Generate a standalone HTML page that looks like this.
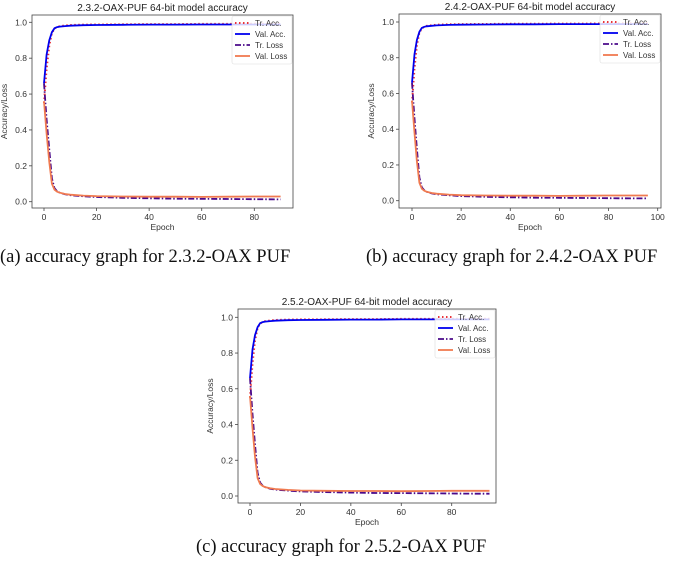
<!DOCTYPE html>
<html><head><meta charset="utf-8"><style>
body{margin:0;background:#fff;width:685px;height:563px;overflow:hidden;font-family:"Liberation Sans",sans-serif}
svg{position:absolute;left:0;top:0}
.cap{position:absolute;font-family:"Liberation Serif",serif;font-size:18.5px;color:#111;white-space:nowrap}
</style></head><body>
<svg id="fig" width="685" height="563"></svg>
<div class="cap" style="left:0;top:247px">(a) accuracy graph for 2.3.2-OAX PUF</div>
<div class="cap" style="left:366px;top:247px">(b) accuracy graph for 2.4.2-OAX PUF</div>
<div class="cap" style="left:196px;top:537px">(c) accuracy graph for 2.5.2-OAX PUF</div>
<script>
const epochs=[0,1,2,3,4,5,6,8,10,15,20,30,40,50,60,70,80,90];
const trAcc=[0.55,0.74,0.87,0.94,0.965,0.973,0.978,0.982,0.985,0.987,0.988,0.989,0.99,0.99,0.991,0.991,0.992,0.992];
const valAcc=[0.66,0.82,0.9,0.945,0.967,0.973,0.976,0.979,0.981,0.984,0.985,0.986,0.987,0.987,0.988,0.988,0.988,0.988];
const trLoss=[0.66,0.46,0.29,0.13,0.075,0.058,0.05,0.041,0.036,0.03,0.026,0.022,0.019,0.017,0.016,0.015,0.014,0.013];
const valLoss=[0.56,0.38,0.22,0.1,0.067,0.056,0.05,0.043,0.039,0.034,0.031,0.029,0.028,0.028,0.027,0.028,0.029,0.029];
const yTicks=[0,0.2,0.4,0.6,0.8,1.0];
const charts=[
 {name:'2.3.2',title:'2.3.2-OAX-PUF 64-bit model accuracy',last:90,xTicks:[0,20,40,60,80],fx0:32,fx1:293,fy0:15,fy1:208,x0:44,xs:(254.3-44)/80,y0:201.7,y1:22.3},
 {name:'2.4.2',title:'2.4.2-OAX-PUF 64-bit model accuracy',last:96,xTicks:[0,20,40,60,80,100],fx0:399,fx1:661,fy0:14,fy1:208,x0:412,xs:(657.7-412)/100,y0:200.7,y1:22},
 {name:'2.5.2',title:'2.5.2-OAX-PUF 64-bit model accuracy',last:95,xTicks:[0,20,40,60,80],fx0:238,fx1:496,fy0:309,fy1:503,x0:250,xs:(451.7-250)/80,y0:496,y1:317.3}
];
const svg=document.getElementById('fig');
const NS='http://www.w3.org/2000/svg';
function mk(tag,attrs,parent){const e=document.createElementNS(NS,tag);for(const k in attrs)e.setAttribute(k,attrs[k]);(parent||svg).appendChild(e);return e;}
const series=[
 {label:'Tr. Acc.',vals:trAcc,color:'#e8333a',dash:'1.5,2.5',w:2},
 {label:'Val. Acc.',vals:valAcc,color:'#0000ee',dash:'',w:1.8},
 {label:'Tr. Loss',vals:trLoss,color:'#4b0a8a',dash:'6,2,1.5,2',w:1.8},
 {label:'Val. Loss',vals:valLoss,color:'#f07a50',dash:'',w:1.8}
];
charts.forEach(c=>{
 const g=mk('g',{});
 
 
 const X=e=>c.x0+e*c.xs, Y=v=>c.y0+(c.y1-c.y0)*v;
 const t=mk('text',{x:(c.fx0+c.fx1)/2,y:c.fy0-4,'text-anchor':'middle','font-size':10,fill:'#222'},g);t.textContent=c.title;
 
 const fr=mk('rect',{x:c.fx0,y:c.fy0,width:c.fx1-c.fx0,height:c.fy1-c.fy0,fill:'none',stroke:'#444','stroke-width':0.8},g);
 
 yTicks.forEach(v=>{mk('line',{x1:c.fx0-3,x2:c.fx0,y1:Y(v),y2:Y(v),stroke:'#444','stroke-width':0.8},g);
  const l=mk('text',{x:c.fx0-5,y:Y(v)+3,'text-anchor':'end','font-size':8.5,fill:'#333'},g);l.textContent=v.toFixed(1);
  });
 c.xTicks.forEach(v=>{mk('line',{x1:X(v),x2:X(v),y1:c.fy1,y2:c.fy1+3,stroke:'#444','stroke-width':0.8},g);
  const l=mk('text',{x:X(v),y:c.fy1+12,'text-anchor':'middle','font-size':8.5,fill:'#333'},g);l.textContent=v;
  });
 const xl=mk('text',{x:(c.fx0+c.fx1)/2,y:c.fy1+22,'text-anchor':'middle','font-size':8.5,fill:'#333'},g);xl.textContent='Epoch';
 
 const cy=(c.fy0+c.fy1)/2,cx=c.fx0-25;
 const yl=mk('text',{x:cx,y:cy,'text-anchor':'middle','font-size':8.5,fill:'#333',transform:`rotate(-90 ${cx} ${cy})`},g);yl.textContent='Accuracy/Loss';
 
 series.forEach(s=>{
  const pts=epochs.map((e,i)=>[e,s.vals[i]]).filter(p=>p[0]<=c.last);
  if(pts[pts.length-1][0]<c.last)pts.push([c.last,s.vals[s.vals.length-1]]);
  const d=pts.map((p,i)=>(i?'L':'M')+X(p[0]).toFixed(1)+','+Y(p[1]).toFixed(1)).join('');
  const p=mk('path',{d:d,fill:'none',stroke:s.color,'stroke-width':s.w,'stroke-dasharray':s.dash},g);
  
  
 });
 const lx=c.fx1-61,ly=c.fy0+1;
 const lg=mk('g',{},g);
 mk('rect',{x:lx,y:ly,width:60,height:48,fill:'#fff','fill-opacity':0.8,stroke:'#ddd','stroke-width':0.6,rx:2},lg);
 series.forEach((s,i)=>{const yy=ly+7+i*11;
  mk('line',{x1:lx+3,x2:lx+18,y1:yy,y2:yy,stroke:s.color,'stroke-width':s.w,'stroke-dasharray':s.dash},lg);
  const tx=mk('text',{x:lx+23,y:yy+3,'font-size':8,fill:'#333'},lg);tx.textContent=s.label;
  });
});
</script>
</body></html>
